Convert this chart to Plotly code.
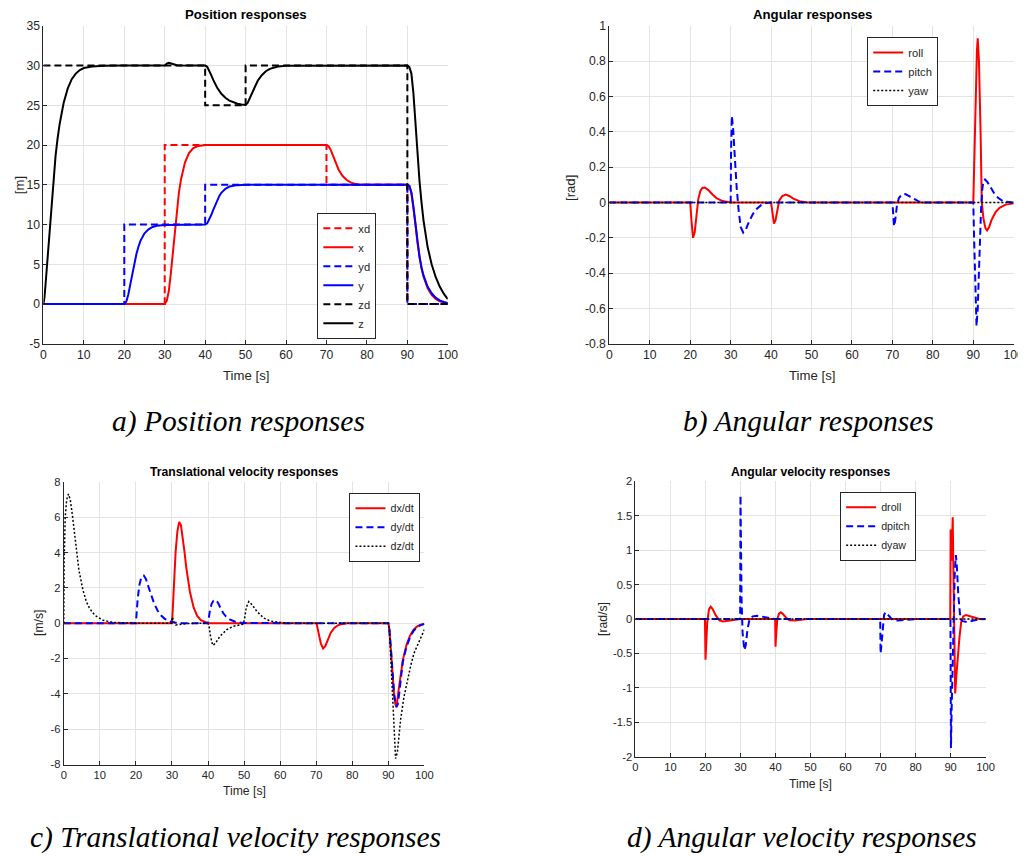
import plotly.graph_objects as go

# Mapping from figure pixels to photographed pixels (measured from earlier renders):
# photo = S * fig + (OX, OY).  Layout positions below are given in photo pixels.
S = 0.984
OX, OY = 11.7, 15.1
FW, FH = 1030, 850

# ---------------- (a) Position responses ----------------
xd_t = [0, 30, 30, 70, 70, 90, 90, 100]
xd_v = [0, 0, 20, 20, 15, 15, 0, 0]
yd_t = [0, 20, 20, 40, 40, 90, 90, 100]
yd_v = [0, 0, 10, 10, 15, 15, 0, 0]
zd_t = [0, 40, 40, 50, 50, 90, 90, 100]
zd_v = [30, 30, 25, 25, 30, 30, 0, 0]

x_t = [0, 30, 30.5, 31, 31.5, 32, 32.5, 33, 33.5, 34, 35, 36, 37, 38, 40,
       70, 70.5, 71, 71.5, 72, 72.5, 73, 74, 75, 76, 77, 78, 80,
       90, 90.5, 91, 91.5, 92, 92.5, 93, 93.5, 94, 95, 96, 97, 98, 99, 100]
x_v = [0, 0, 0.4, 1.6, 3.8, 6.6, 9.4, 11.9, 14.0, 15.6, 17.8, 19.0, 19.6, 19.85, 20,
       20, 19.85, 19.45, 18.8, 18.1, 17.45, 16.9, 16.1, 15.6, 15.3, 15.12, 15.05, 15,
       15, 14.85, 14.0, 12.3, 10.0, 7.7, 5.9, 4.5, 3.45, 2.0, 1.15, 0.65, 0.35, 0.18, 0.08]

y_t = [0, 20, 20.5, 21, 21.5, 22, 22.5, 23, 23.5, 24, 25, 26, 27, 28, 30, 40,
       40.5, 41, 41.5, 42, 42.5, 43, 43.5, 44, 45, 46, 47, 48, 50,
       90, 90.5, 91, 91.5, 92, 92.5, 93, 93.5, 94, 95, 96, 97, 98, 99, 100]
y_v = [0, 0, 0.3, 1.2, 2.5, 3.8, 5.15, 6.3, 7.2, 7.95, 8.9, 9.4, 9.7, 9.85, 9.95, 10,
       10.15, 10.6, 11.2, 11.85, 12.5, 13.1, 13.6, 14.0, 14.5, 14.78, 14.9, 14.96, 15,
       15, 14.85, 14.0, 12.3, 10.0, 7.7, 5.9, 4.6, 3.6, 2.2, 1.35, 0.8, 0.45, 0.25, 0.13]

z_t = [0, 0.25, 0.5, 1, 1.5, 2, 2.5, 3, 3.5, 4, 5, 6, 7, 8, 9, 10, 12, 15, 20,
       30, 30.5, 31, 32, 33, 35, 40, 40.5, 41, 41.5, 42, 43, 44, 45, 46, 47, 48, 49, 50,
       50.5, 51, 52, 53, 54, 55, 56, 57, 58, 60,
       90, 90.5, 91, 91.5, 92, 92.5, 93, 93.5, 94, 95, 96, 97, 98, 99, 100]
z_v = [0, 0.8, 2.3, 5.8, 9.4, 12.9, 16.0, 18.6, 20.8, 22.6, 25.3, 27.1, 28.3, 29.0, 29.45, 29.7, 29.9, 29.98, 30,
       30, 30.25, 30.35, 30.2, 30.05, 30, 30, 29.85, 29.4, 28.8, 28.2, 27.2, 26.45, 25.95, 25.6, 25.35, 25.2, 25.1, 25.05,
       25.3, 25.9, 27.1, 28.1, 28.8, 29.3, 29.6, 29.8, 29.9, 29.97,
       30, 29.8, 29.0, 26.5, 22.7, 18.9, 15.5, 12.8, 10.5, 7.2, 5.0, 3.4, 2.2, 1.3, 0.6]

# ---------------- (b) Angular responses ----------------
roll_t = [0, 20, 20.3, 20.7, 21.1, 21.5, 22, 22.5, 23, 23.6, 24.5, 25.5, 26.5, 28, 30,
          40, 40.3, 40.7, 41.1, 41.5, 42, 42.7, 43.6, 44.5, 45.5, 47, 49,
          90, 90.3, 90.6, 90.9, 91.1, 91.4, 91.8, 92.1, 92.5, 93, 93.4, 93.9, 94.5, 95.5, 96.5, 98, 100]
roll_v = [0, 0, -0.1, -0.2, -0.17, -0.08, 0.02, 0.065, 0.082, 0.085, 0.07, 0.045, 0.025, 0.008, 0,
          0, -0.06, -0.12, -0.1, -0.04, 0.01, 0.035, 0.045, 0.037, 0.022, 0.007, 0,
          0, 0.3, 0.62, 0.86, 0.93, 0.8, 0.4, 0.0, -0.09, -0.145, -0.158, -0.14, -0.1, -0.055, -0.03, -0.012, -0.005]

pitch_t = [0, 30, 30.1, 30.3, 30.6, 31, 31.5, 32, 32.5, 33.1, 33.8, 34.5, 35.5, 36.5, 37.5, 38.5, 40,
           70, 70.15, 70.4, 70.7, 71.1, 71.6, 72.3, 73.2, 74.2, 75.3, 76.5, 78,
           90, 90.2, 90.5, 90.8, 91.1, 91.5, 91.9, 92.2, 92.5, 92.9, 93.5, 94.3, 95.2, 96.2, 97.5, 100]
pitch_v = [0, 0, 0.3, 0.49, 0.42, 0.25, 0.08, -0.05, -0.14, -0.17, -0.15, -0.11, -0.065, -0.035, -0.015, -0.005, 0,
           0, -0.07, -0.135, -0.1, -0.02, 0.025, 0.045, 0.048, 0.035, 0.018, 0.006, 0,
           0, -0.2, -0.5, -0.7, -0.6, -0.3, -0.05, 0.07, 0.12, 0.13, 0.115, 0.085, 0.05, 0.025, 0.005, 0]

yaw_t = [0, 100]
yaw_v = [0, 0]

# ---------------- (c) Translational velocity responses ----------------
dx_t = [0, 30, 30.1, 30.5, 31, 31.5, 32, 32.5, 33, 33.5, 34, 35, 36, 37, 38, 39, 40,
        70, 70.2, 70.7, 71.3, 71.9, 72.5, 73.2, 74, 75, 76, 77, 78.6,
        90, 90.2, 90.7, 91.2, 91.6, 92, 92.4, 92.9, 93.4, 94, 95, 96, 97, 98, 99, 100]
dx_v = [0, 0, 0.3, 2.2, 4.0, 5.2, 5.74, 5.55, 4.9, 4.0, 3.1, 1.75, 0.9, 0.42, 0.18, 0.07, 0,
        0, -0.1, -0.6, -1.15, -1.43, -1.3, -0.95, -0.55, -0.27, -0.12, -0.05, 0,
        0, -0.2, -1.5, -3.0, -4.1, -4.65, -4.5, -3.7, -2.85, -2.1, -1.25, -0.7, -0.36, -0.18, -0.08, -0.03]

dy_t = [0, 20, 20.1, 20.5, 21, 21.5, 22.2, 22.8, 23.5, 24.2, 25, 26, 27, 28, 29.4, 31, 33,
        40, 40.1, 40.5, 41, 41.5, 42.2, 42.8, 43.5, 44.2, 45, 46, 47.5, 49.8,
        90, 90.2, 90.7, 91.2, 91.6, 92.2, 92.6, 93, 93.4, 94, 95, 96, 97, 98, 99, 100]
dy_v = [0, 0, 0.3, 1.4, 2.2, 2.6, 2.7, 2.5, 2.05, 1.6, 1.15, 0.72, 0.44, 0.25, 0.1, 0.03, 0,
        0, 0.15, 0.7, 1.1, 1.27, 1.32, 1.15, 0.85, 0.58, 0.38, 0.22, 0.09, 0.01,
        0, -0.15, -1.4, -2.9, -4.0, -4.75, -4.6, -4.0, -3.1, -2.2, -1.35, -0.8, -0.42, -0.22, -0.1, -0.05]

dz_t = [0, 0.1, 0.4, 0.8, 1.3, 1.8, 2.4, 3.0, 3.4, 4.2, 5.3, 6.2, 7.1, 8, 9, 10.9, 13.6, 17, 20,
        29.8, 30.1, 30.5, 31, 32, 33, 35,
        40, 40.3, 40.7, 41.3, 42, 43.3, 45.2, 47, 49.8,
        50.2, 50.6, 51.3, 52.2, 53.5, 55.4, 57.2, 60, 62,
        90, 90.3, 90.8, 91.4, 92, 92.5, 93.4, 94.3, 95.3, 96.2, 97.1, 98.5, 100]
dz_v = [0, 3.5, 6.0, 7.0, 7.32, 7.0, 6.1, 5.0, 4.2, 3.0, 1.9, 1.25, 0.87, 0.6, 0.4, 0.17, 0.05, 0.01, 0,
        0, 0.35, 0.1, -0.1, -0.08, -0.04, -0.01,
        0, -0.2, -0.75, -1.25, -1.15, -0.74, -0.36, -0.17, -0.05,
        0.35, 0.9, 1.23, 1.05, 0.68, 0.3, 0.13, 0.03, 0,
        0, -0.4, -2.5, -5.5, -7.66, -7.3, -5.45, -4.2, -3.2, -2.4, -1.7, -1.0, -0.36]

# ---------------- (d) Angular velocity responses ----------------
droll_t = [0, 19.85, 20.0, 20.1, 20.5, 21, 21.5, 22, 23, 24, 25, 26.5, 28, 30,
           39.9, 40.0, 40.1, 40.5, 41, 41.5, 42, 43, 44, 45.5, 47, 49,
           89.9, 90.0, 90.15, 90.3, 90.45, 90.6, 90.75, 91.0, 91.3, 91.6, 92, 92.5, 93, 93.6, 94.4, 95.5, 96.5, 98, 100]
droll_v = [0, 0, -0.59, -0.45, -0.05, 0.14, 0.18, 0.15, 0.05, -0.02, -0.035, -0.025, -0.01, 0,
           0, -0.40, -0.3, 0.0, 0.08, 0.1, 0.08, 0.02, -0.015, -0.02, -0.01, 0,
           0, 1.30, 0.9, 0.85, 1.1, 1.48, 0.9, -0.3, -1.08, -0.85, -0.55, -0.28, -0.05, 0.04, 0.06, 0.045, 0.025, 0.005, 0]

dpitch_t = [0, 29.9, 30.0, 30.1, 30.3, 30.6, 31.1, 31.5, 32, 32.6, 33.5, 34.7, 36, 38, 40,
            69.9, 70.0, 70.2, 70.6, 71.0, 71.4, 72, 72.7, 73.5, 75, 77, 80,
            89.95, 90.1, 90.3, 90.6, 90.9, 91.2, 91.5, 91.8, 92.2, 92.8, 93.5, 95, 96.5, 98, 100]
dpitch_v = [0, 0, 1.8, 1.2, 0.3, -0.2, -0.45, -0.38, -0.15, 0, 0.04, 0.05, 0.035, 0.02, 0,
            0, -0.5, -0.4, -0.1, 0.06, 0.1, 0.07, 0.02, -0.015, -0.02, -0.01, 0,
            0, -1.87, -1.3, -0.5, 0.2, 0.7, 0.93, 0.75, 0.35, 0.0, -0.03, -0.045, -0.02, -0.005, 0]

dyaw_t = [0, 100]
dyaw_v = [0, 0]

# ---------------- tick labels ----------------
x_ticks = [0, 10, 20, 30, 40, 50, 60, 70, 80, 90, 100]
ya_ticks = [-5, 0, 5, 10, 15, 20, 25, 30, 35]
yb_ticks = [-0.8, -0.6, -0.4, -0.2, 0, 0.2, 0.4, 0.6, 0.8, 1]
yb_text = ["-0.8", "-0.6", "-0.4", "-0.2", "0", "0.2", "0.4", "0.6", "0.8", "1"]
yc_ticks = [-8, -6, -4, -2, 0, 2, 4, 6, 8]
yd_ticks = [-2, -1.5, -1, -0.5, 0, 0.5, 1, 1.5, 2]
yd_text = ["-2", "-1.5", "-1", "-0.5", "0", "0.5", "1", "1.5", "2"]

RED, BLUE, BLACK = "#ff0000", "#0000ff", "#000000"
DASH = "7px,4px"
DOT = "2px,2px"

fig = go.Figure()

def add(t, v, name, color, dash, width, xa, ya, leg):
    fig.add_trace(go.Scatter(x=t, y=v, name=name, mode="lines",
                             line=dict(color=color, dash=dash, width=width),
                             xaxis=xa, yaxis=ya, legend=leg))

add(xd_t, xd_v, "xd", RED, DASH, 2, "x", "y", "legend")
add(x_t, x_v, "x", RED, "solid", 2, "x", "y", "legend")
add(yd_t, yd_v, "yd", BLUE, DASH, 2, "x", "y", "legend")
add(y_t, y_v, "y", BLUE, "solid", 2, "x", "y", "legend")
add(zd_t, zd_v, "zd", BLACK, DASH, 2, "x", "y", "legend")
add(z_t, z_v, "z", BLACK, "solid", 2, "x", "y", "legend")

add(roll_t, roll_v, "roll", RED, "solid", 2, "x2", "y2", "legend2")
add(pitch_t, pitch_v, "pitch", BLUE, DASH, 2, "x2", "y2", "legend2")
add(yaw_t, yaw_v, "yaw", BLACK, DOT, 1.5, "x2", "y2", "legend2")

add(dx_t, dx_v, "dx/dt", RED, "solid", 2, "x3", "y3", "legend3")
add(dy_t, dy_v, "dy/dt", BLUE, DASH, 2, "x3", "y3", "legend3")
add(dz_t, dz_v, "dz/dt", BLACK, DOT, 1.5, "x3", "y3", "legend3")

add(droll_t, droll_v, "droll", RED, "solid", 2, "x4", "y4", "legend4")
add(dpitch_t, dpitch_v, "dpitch", BLUE, DASH, 2, "x4", "y4", "legend4")
add(dyaw_t, dyaw_v, "dyaw", BLACK, DOT, 1.5, "x4", "y4", "legend4")

SANS = "Liberation Sans, Arial, Helvetica, sans-serif"
AX = "#262626"

def fs(size):
    return round(size / S, 1)

def axis(domain, rng, tickvals, ticktext, size, anchor):
    return dict(domain=domain, range=rng, tickvals=tickvals, ticktext=ticktext,
                showline=True, linecolor=AX, linewidth=1, mirror=False,
                ticks="inside", ticklen=4, tickcolor=AX, showgrid=True,
                gridcolor="#e3e3e3", gridwidth=1, zeroline=False, anchor=anchor,
                tickfont=dict(family=SANS, size=fs(size), color=AX))

def px2x(p):
    return ((p - OX) / S) / FW

def px2y(p):
    return 1 - ((p - OY) / S) / FH

xt_text = [str(v) for v in x_ticks]
fig.update_layout(
    xaxis=axis([px2x(44), px2x(447)], [0, 100], x_ticks, xt_text, 12, "y"),
    yaxis=axis([px2y(344), px2y(26)], [-5, 35], ya_ticks, [str(v) for v in ya_ticks], 12, "x"),
    xaxis2=axis([px2x(608), px2x(1011)], [0, 100], x_ticks, xt_text, 12, "y2"),
    yaxis2=axis([px2y(344), px2y(26)], [-0.8, 1], yb_ticks, yb_text, 12, "x2"),
    xaxis3=axis([px2x(64.3), px2x(423.7)], [0, 100], x_ticks, xt_text, 11, "y3"),
    yaxis3=axis([px2y(765), px2y(482.3)], [-8, 8], yc_ticks, [str(v) for v in yc_ticks], 11, "x3"),
    xaxis4=axis([px2x(634), px2x(983)], [0, 100], x_ticks, xt_text, 11, "y4"),
    yaxis4=axis([px2y(757.3), px2y(481.7)], [-2, 2], yd_ticks, yd_text, 11, "x4"),
)

def legend(xp, yp, size):
    return dict(x=px2x(xp), y=px2y(yp), xanchor="left", yanchor="top",
                bgcolor="white", bordercolor=AX, borderwidth=1,
                font=dict(family=SANS, size=fs(size), color=AX),
                itemwidth=30, tracegroupgap=0, itemclick=False)

fig.update_layout(
    width=FW, height=FH, autosize=False,
    margin=dict(l=0, r=0, t=0, b=0),
    paper_bgcolor="white", plot_bgcolor="white",
    showlegend=True,
    legend=legend(317, 213, 11),
    legend2=legend(865, 37, 11),
    legend3=legend(349, 493, 10.5),
    legend4=legend(838, 492, 10.5),
)

ann = []
def text(xp, yp, s, size, bold=False, angle=0, family=SANS, italic=False, color=AX):
    if bold:
        s = "<b>" + s + "</b>"
    if italic:
        s = "<i>" + s + "</i>"
    ann.append(dict(x=px2x(xp), y=px2y(yp), xref="paper", yref="paper", text=s,
                    showarrow=False, xanchor="center", yanchor="middle",
                    textangle=angle, font=dict(family=family, size=fs(size), color=color)))

# titles
text(245.5, 15, "Position responses", 13, bold=True, color="#000000")
text(810, 15, "Angular responses", 13, bold=True, color="#000000")
text(244.5, 472, "Translational velocity responses", 12, bold=True, color="#000000")
text(808.5, 472, "Angular velocity responses", 12, bold=True, color="#000000")
# axis labels
text(245.5, 376, "Time [s]", 13)
text(810, 376, "Time [s]", 13)
text(244, 791, "Time [s]", 12)
text(808.5, 784, "Time [s]", 12)
text(20, 185, "[m]", 13, angle=-90)
text(570, 188, "[rad]", 13, angle=-90)
text(39, 623, "[m/s]", 12, angle=-90)
text(601, 619, "[rad/s]", 12, angle=-90)
# captions
SERIF = "Liberation Serif, Times New Roman, serif"
text(238, 422, "a) Position responses", 29, family=SERIF, italic=True, color="#000000")
text(806, 422, "b) Angular responses", 29, family=SERIF, italic=True, color="#000000")
text(235, 838, "c) Translational velocity responses", 29, family=SERIF, italic=True, color="#000000")
text(800, 838, "d) Angular velocity responses", 29, family=SERIF, italic=True, color="#000000")

fig.update_layout(annotations=ann)
fig.write_html("out.html")
